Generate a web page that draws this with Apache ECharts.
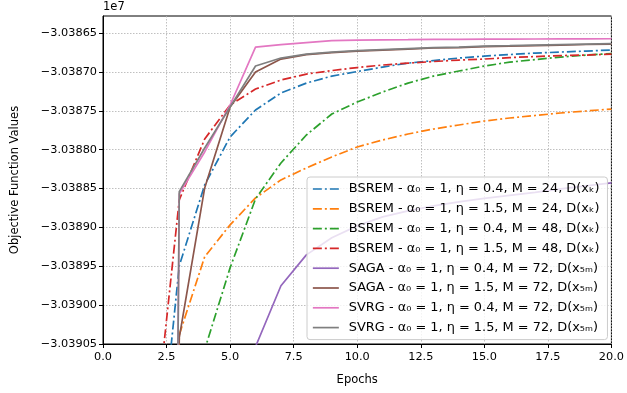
<!DOCTYPE html>
<html>
<head>
<meta charset="utf-8">
<script src="https://cdn.jsdelivr.net/npm/echarts@6/dist/echarts.min.js"></script>
<style>html,body{margin:0;padding:0;background:#fff}#c{width:627px;height:393px}</style>
</head>
<body>
<div id="c"></div>
<script>
const epochs = [0,1,2,3,4,5,6,7,8,9,10,11,12,13,14,15,16,17,18,19,20];

const bsrem_04_24 = [null,null,-30392707,-30389494,-30388453,-30387836,-30387489,-30387271,-30387143,-30387053,-30386995,-30386937,-30386886,-30386853,-30386821,-30386796,-30386776,-30386757,-30386744,-30386731,-30386718];
const bsrem_15_24 = [null,null,-30428000,-30390381,-30389378,-30388967,-30388620,-30388389,-30388235,-30388093,-30387965,-30387875,-30387798,-30387734,-30387682,-30387631,-30387592,-30387560,-30387528,-30387502,-30387477];
const bsrem_04_48 = [null,null,null,-30430000,-30390573,-30389520,-30388633,-30388171,-30387811,-30387541,-30387387,-30387258,-30387143,-30387053,-30386988,-30386924,-30386873,-30386841,-30386808,-30386783,-30386763];
const bsrem_15_48 = [null,null,-30391730,-30388646,-30387862,-30387425,-30387220,-30387104,-30387027,-30386982,-30386943,-30386911,-30386886,-30386866,-30386847,-30386834,-30386815,-30386802,-30386789,-30386783,-30386770];
const saga_04_72 = [null,null,null,null,null,-30430000,-30390535,-30389751,-30389353,-30389134,-30388980,-30388864,-30388787,-30388723,-30388672,-30388627,-30388588,-30388550,-30388505,-30388466,-30388428];
const saga_15_72 = [null,null,-30428000,-30390419,-30388492,-30387451,-30387001,-30386834,-30386776,-30386750,-30386731,-30386718,-30386705,-30386692,-30386686,-30386673,-30386667,-30386660,-30386654,-30386647,-30386641];
const svrg_04_72 = [null,null,-30428000,-30388569,-30388029,-30387425,-30386680,-30386648,-30386622,-30386596,-30386590,-30386586,-30386584,-30386581,-30386580,-30386578,-30386577,-30386576,-30386575,-30386574,-30386573];
const svrg_15_72 = [null,null,-30428000,-30388539,-30387978,-30387451,-30386924,-30386821,-30386770,-30386744,-30386725,-30386712,-30386699,-30386686,-30386680,-30386667,-30386661,-30386654,-30386648,-30386641,-30386635];

const seriesNames = [
  'BSREM - α₀ = 1, η = 0.4, M = 24, D(xₖ)',
  'BSREM - α₀ = 1, η = 1.5, M = 24, D(xₖ)',
  'BSREM - α₀ = 1, η = 0.4, M = 48, D(xₖ)',
  'BSREM - α₀ = 1, η = 1.5, M = 48, D(xₖ)',
  'SAGA - α₀ = 1, η = 0.4, M = 72, D(x₅ₘ)',
  'SAGA - α₀ = 1, η = 1.5, M = 72, D(x₅ₘ)',
  'SVRG - α₀ = 1, η = 0.4, M = 72, D(x₅ₘ)',
  'SVRG - α₀ = 1, η = 1.5, M = 72, D(x₅ₘ)'
];
const seriesValues = [bsrem_04_24, bsrem_15_24, bsrem_04_48, bsrem_15_48, saga_04_72, saga_15_72, svrg_04_72, svrg_15_72];
const colors = ['#1f77b4','#ff7f0e','#2ca02c','#d62728','#9467bd','#8c564b','#e377c2','#7f7f7f'];
const dashed = [true,true,true,true,false,false,false,false];

const yTicks = [-30390500,-30390000,-30389500,-30389000,-30388500,-30388000,-30387500,-30387000,-30386500];

const FONT = 'DejaVu Sans';
const chart = echarts.init(document.getElementById('c'), null, {renderer:'canvas'});

const series = seriesNames.map((name, i) => ({
  name: name,
  type: 'line',
  data: epochs.map((e, k) => [e, seriesValues[i][k]]),
  symbol: 'none',
  showSymbol: false,
  connectNulls: false,
  clip: true,
  lineStyle: { color: colors[i], width: 1.7, type: dashed[i] ? [9, 3, 2, 3] : 'solid' },
  itemStyle: { color: colors[i] },
  emphasis: { disabled: true },
  animation: false
}));

chart.setOption({
  animation: false,
  backgroundColor: '#fff',
  textStyle: { fontFamily: FONT },
  grid: { left: 103, right: 14, top: 16, bottom: 49, show: true, borderColor: '#000', borderWidth: 1, backgroundColor: 'transparent' },
  xAxis: {
    type: 'value', min: 0, max: 20, interval: 2.5,
    name: 'Epochs', nameLocation: 'middle', nameGap: 30,
    nameTextStyle: { fontFamily: FONT, fontSize: 11.5, color: '#000' },
    axisLine: { show: true, onZero: false, lineStyle: { color: '#000', width: 1 } },
    axisTick: { show: true, length: 4, lineStyle: { color: '#000' } },
    axisLabel: { fontFamily: FONT, fontSize: 11.3, color: '#000', margin: 8, formatter: v => v.toFixed(1) },
    splitLine: { show: true, lineStyle: { color: '#b0b0b0', type: [1.5, 1.5], width: 0.8 } }
  },
  yAxis: {
    type: 'value', min: -30390500, max: -30386280, interval: 500,
    name: 'Objective Function Values', nameLocation: 'middle', nameGap: 82,
    nameTextStyle: { fontFamily: FONT, fontSize: 11.5, color: '#000' },
    axisLine: { show: true, onZero: false, lineStyle: { color: '#000', width: 1 } },
    axisTick: { show: true, length: 4, lineStyle: { color: '#000' }, customValues: yTicks },
    axisLabel: { fontFamily: FONT, fontSize: 11.3, color: '#000', margin: 6, customValues: yTicks,
      formatter: v => (v / 1e7).toFixed(5).replace('-', '\u2212') },
    splitLine: { show: true, lineStyle: { color: '#b0b0b0', type: [1.5, 1.5], width: 0.8 } }
  },
  legend: {
    orient: 'vertical', left: 307, top: 177,
    data: seriesNames,
    itemWidth: 26, itemHeight: 14, itemGap: 5.8,
    padding: [5, 8, 5, 5],
    backgroundColor: 'rgba(255,255,255,0.8)',
    borderColor: '#cccccc', borderWidth: 1, borderRadius: 3,
    itemStyle: { opacity: 0, borderWidth: 0 },
    lineStyle: { width: 1.7 },
    textStyle: { fontFamily: FONT, fontSize: 12.9, color: '#000', lineHeight: 14, padding: [0, 0, 0, 5] },
    selectedMode: false
  },
  graphic: [{ type: 'text', left: 103, top: 1, style: { text: '1e7', font: '11.5px "DejaVu Sans"', fill: '#000' } }],
  series: series
});
</script>
</body>
</html>
